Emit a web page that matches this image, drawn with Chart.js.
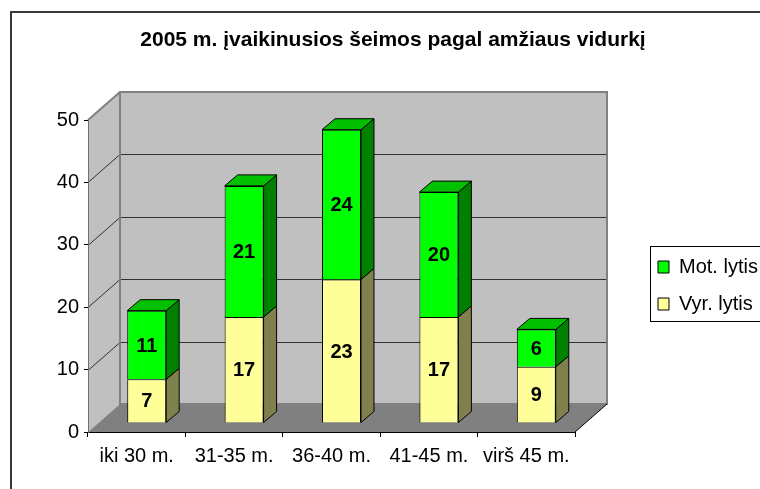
<!DOCTYPE html>
<html lang="lt">
<head>
    <meta charset="UTF-8">
    <title>2005 m. įvaikinusios šeimos pagal amžiaus vidurkį</title>
    <script src="https://cdn.jsdelivr.net/npm/chart.js"></script>
    <style>
        html, body {
            margin: 0;
            padding: 0;
            background: #fff;
            overflow: hidden;
        }
        canvas {
            display: block;
        }
    </style>
</head>
<body>
    <canvas id="grafikas" width="780" height="489"></canvas>

    <script>
        // Duomenys
        const kategorijos = ['iki 30 m.', '31-35 m.', '36-40 m.', '41-45 m.', 'virš 45 m.'];
        const vyrLytis = [7, 17, 23, 17, 9];
        const motLytis = [11, 21, 24, 20, 6];
        const yZymes = [0, 10, 20, 30, 40, 50];

        // 3D efekto poslinkiai (pikseliais)
        const gylis = { dx: 32, dy: -28 };       // visa dėžė
        const stulpGylis = { dx: 13, dy: -11 };  // stulpelio šonas
        const poslinkis = { dx: 10, dy: -9 };    // stulpelių plokštuma

        Chart.defaults.font.family = "'Liberation Sans', Arial, sans-serif";
        Chart.defaults.color = '#000';

        function kelias(ctx, taskai) {
            ctx.beginPath();
            taskai.forEach((t, i) => i ? ctx.lineTo(t[0], t[1]) : ctx.moveTo(t[0], t[1]));
            ctx.closePath();
        }

        function linija(ctx, x1, y1, x2, y2) {
            ctx.beginPath();
            ctx.moveTo(x1, y1);
            ctx.lineTo(x2, y2);
            ctx.stroke();
        }

        const erdve3d = {
            id: 'erdve3d',
            beforeDraw(chart) {
                const ctx = chart.ctx;
                const x = chart.scales.x, y = chart.scales.y;
                const L = x.left, R = x.right;
                const y0 = y.getPixelForValue(0), yMax = y.getPixelForValue(50);
                const { dx, dy } = gylis;
                ctx.save();
                // rėmelis
                ctx.strokeStyle = '#3a3a3a';
                ctx.lineWidth = 2;
                ctx.strokeRect(11, 12, 900, 700);
                // sienos
                ctx.fillStyle = '#c0c0c0';
                kelias(ctx, [[L, yMax], [L + dx, yMax + dy], [L + dx, y0 + dy], [L, y0]]);
                ctx.fill();
                ctx.fillRect(L + dx, yMax + dy, R - L, y0 - yMax);
                // grindys
                ctx.fillStyle = '#808080';
                kelias(ctx, [[L, y0], [R, y0], [R + dx, y0 + dy], [L + dx, y0 + dy]]);
                ctx.fill();
                // tinklelis
                ctx.strokeStyle = '#303030';
                ctx.lineWidth = 1;
                y.ticks.forEach(t => {
                    if (t.value <= 0 || t.value >= 50) return;
                    const p = Math.round(y.getPixelForValue(t.value)) + 0.5;
                    linija(ctx, L + dx, p + dy, R + dx, p + dy);
                    linija(ctx, L, p, L + dx, p + dy);
                });
                // kontūrai
                ctx.strokeStyle = '#808080';
                ctx.lineWidth = 2;
                ctx.strokeRect(L + dx, yMax + dy, R - L, y0 - yMax);
                linija(ctx, L, yMax, L + dx, yMax + dy);
                ctx.strokeStyle = '#000';
                ctx.lineWidth = 1;
                linija(ctx, R, y0, R + dx, y0 + dy);
                ctx.restore();
            },
            beforeDatasetsDraw(chart) {
                const ctx = chart.ctx;
                ctx.save();
                ctx.translate(poslinkis.dx, poslinkis.dy);
                const n = chart.data.datasets.length;
                chart.data.datasets.forEach((ds, di) => {
                    chart.getDatasetMeta(di).data.forEach(bar => {
                        const kaire = bar.x - bar.width / 2, desine = bar.x + bar.width / 2;
                        const virsus = Math.min(bar.y, bar.base), apacia = Math.max(bar.y, bar.base);
                        const { dx, dy } = stulpGylis;
                        ctx.strokeStyle = '#000';
                        ctx.lineWidth = 1;
                        ctx.fillStyle = ds.sonoSpalva;
                        kelias(ctx, [[desine, virsus], [desine + dx, virsus + dy], [desine + dx, apacia + dy], [desine, apacia]]);
                        ctx.fill();
                        ctx.stroke();
                        if (di === n - 1) {
                            ctx.fillStyle = ds.virsausSpalva;
                            kelias(ctx, [[kaire, virsus], [kaire + dx, virsus + dy], [desine + dx, virsus + dy], [desine, virsus]]);
                            ctx.fill();
                            ctx.stroke();
                        }
                    });
                });
            },
            afterDatasetsDraw(chart) {
                const ctx = chart.ctx;
                ctx.font = "bold 20px 'Liberation Sans', Arial, sans-serif";
                ctx.fillStyle = '#000';
                ctx.textAlign = 'center';
                ctx.textBaseline = 'middle';
                chart.data.datasets.forEach((ds, di) => {
                    chart.getDatasetMeta(di).data.forEach((bar, i) => {
                        ctx.fillText(String(ds.data[i]), bar.x, (bar.y + bar.base) / 2 + 1);
                    });
                });
                ctx.restore();
            },
            afterDraw(chart) {
                // legendos rėmelis
                const lg = chart.legend;
                const hb = lg.legendHitBoxes;
                if (!hb || !hb.length) return;
                const ctx = chart.ctx;
                const virsus = hb[0].top - 11;
                const apacia = hb[hb.length - 1].top + hb[hb.length - 1].height + 7;
                ctx.save();
                ctx.strokeStyle = '#000';
                ctx.lineWidth = 1;
                ctx.strokeRect(lg.left + 9.5, Math.round(virsus) + 0.5, 200, Math.round(apacia - virsus));
                ctx.restore();
            }
        };

        const ctx = document.getElementById('grafikas').getContext('2d');
        const grafikas = new Chart(ctx, {
            type: 'bar',
            data: {
                labels: kategorijos,
                datasets: [{
                    label: 'Vyr. lytis',
                    data: vyrLytis,
                    backgroundColor: '#ffff99',
                    sonoSpalva: '#80804d',
                    virsausSpalva: '#c0c070',
                    borderColor: '#000',
                    borderWidth: 1,
                    xAxisID: 'x',
                    yAxisID: 'y'
                }, {
                    label: 'Mot. lytis',
                    data: motLytis,
                    backgroundColor: '#00ff00',
                    sonoSpalva: '#008000',
                    virsausSpalva: '#00c000',
                    borderColor: '#000',
                    borderWidth: 1,
                    xAxisID: 'x',
                    yAxisID: 'y'
                }]
            },
            options: {
                responsive: false,
                animation: false,
                devicePixelRatio: 1,
                datasets: {
                    bar: {
                        categoryPercentage: 1,
                        barPercentage: 0.4,
                        clip: false
                    }
                },
                layout: {
                    padding: { left: 25, right: 19, top: 0, bottom: 0 }
                },
                plugins: {
                    title: {
                        display: true,
                        text: '2005 m. įvaikinusios šeimos pagal amžiaus vidurkį',
                        font: { size: 21, weight: 'bold', lineHeight: 1.2 },
                        color: '#000',
                        padding: { top: 28, bottom: 66.8 }
                    },
                    legend: {
                        display: true,
                        position: 'right',
                        fullSize: false,
                        reverse: true,
                        maxWidth: 120,
                        title: {
                            display: true,
                            text: ' ',
                            font: { size: 10, lineHeight: 1.5 },
                            padding: { top: 2, bottom: 2 }
                        },
                        labels: {
                            boxWidth: 11,
                            boxHeight: 12,
                            padding: 17,
                            color: '#000',
                            font: { size: 20 }
                        }
                    },
                    tooltip: { enabled: false }
                },
                scales: {
                    x: {
                        stacked: true,
                        afterFit: s => { s.height = 57; },
                        grid: {
                            offset: true,
                            drawOnChartArea: false,
                            drawTicks: true,
                            tickLength: 5,
                            color: '#000'
                        },
                        border: { display: true, color: '#000', width: 1 },
                        ticks: {
                            padding: 7,
                            maxRotation: 0,
                            autoSkip: false,
                            font: { size: 20 },
                            color: '#000'
                        }
                    },
                    y: {
                        stacked: true,
                        position: 'left',
                        min: 0,
                        max: 50,
                        afterFit: s => { s.width = 63; },
                        afterBuildTicks: s => { s.ticks = yZymes.map(v => ({ value: v })); },
                        grid: {
                            drawOnChartArea: false,
                            drawTicks: true,
                            tickLength: 4,
                            color: '#000'
                        },
                        border: { display: true, color: '#707070', width: 1 },
                        ticks: {
                            padding: 5,
                            font: { size: 20 },
                            color: '#000'
                        }
                    },
                    tarpas: {
                        type: 'linear',
                        position: 'right',
                        afterFit: s => { s.width = 66; },
                        grid: { display: false },
                        border: { display: false },
                        ticks: { display: false }
                    }
                }
            },
            plugins: [erdve3d]
        });
    </script>
</body>
</html>
